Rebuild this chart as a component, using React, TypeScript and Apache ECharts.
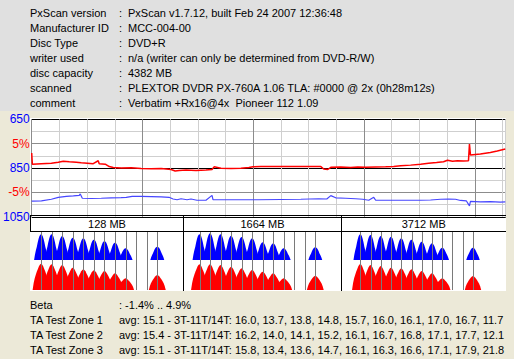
import React, { useEffect, useRef } from 'react';
import * as echarts from 'echarts';

// ---------- header information ----------
const INFO_LABELS = ['PxScan version', 'Manufacturer ID', 'Disc Type', 'writer used', 'disc capacity', 'scanned', 'comment'];
const INFO_VALUES = [
  'PxScan v1.7.12, built Feb 24 2007 12:36:48',
  'MCC-004-00',
  'DVD+R',
  'n/a (writer can only be determined from DVD-R/W)',
  '4382 MB',
  'PLEXTOR DVDR PX-760A 1.06 TLA: #0000 @ 2x (0h28m12s)',
  'Verbatim +Rx16@4x\u00a0 Pioneer 112 1.09',
];

// ---------- beta / jitter scan ----------
const DISC_MB = 4382;
const BETA_MB = [0, 6, 90, 182, 246, 292, 348, 412, 458, 514, 569, 615, 624, 680, 717, 754, 827, 920, 1012, 1104, 1197, 1289, 1326, 1362, 1427, 1519, 1611, 1667, 1686, 1750, 1842, 1934, 2008, 2045, 2119, 2211, 2303, 2396, 2534, 2673, 2700, 2737, 2765, 2857, 2949, 3014, 3088, 3180, 3272, 3346, 3411, 3503, 3595, 3669, 3743, 3807, 3844, 3890, 3936, 3992, 4038, 4047, 4056, 4148, 4240, 4304, 4378];
const BETA_PCT = [3.1, 0.8, 0.9, 1.0, 1.2, 1.4, 1.3, 1.2, 1.1, 1.0, 0.9, 1.5, 0.9, 0.8, 0.3, 0.1, 0.0, 0.05, -0.1, -0.15, -0.1, -0.3, -0.6, -0.5, -0.4, -0.5, -0.4, -0.3, 0.25, -0.05, -0.1, -0.05, 0.1, 0.25, 0.3, 0.3, 0.3, 0.3, 0.3, 0.3, -0.2, -0.3, 0.15, 0.2, 0.1, 0.2, 0.15, 0.2, 0.25, 0.3, 0.45, 0.6, 0.8, 1.0, 1.15, 1.3, 1.6, 1.4, 1.5, 1.45, 1.5, 4.9, 2.7, 2.9, 3.2, 3.5, 3.9];

const JITTER_MB = [0, 90, 182, 246, 320, 385, 440, 449, 468, 551, 643, 735, 827, 874, 929, 1012, 1104, 1197, 1270, 1307, 1344, 1381, 1436, 1473, 1528, 1611, 1667, 1676, 1750, 1888, 2027, 2091, 2303, 2488, 2654, 2728, 2765, 2811, 2903, 2995, 3060, 3116, 3162, 3180, 3319, 3457, 3595, 3688, 3780, 3854, 3918, 3964, 4019, 4047, 4056, 4148, 4240, 4332, 4378];
const JITTER_VAL = [986, 985, 978, 970, 966, 964, 962, 956, 974, 975, 974, 972, 971, 970, 966, 966, 967, 968, 970, 977, 980, 976, 980, 977, 982, 982, 962, 980, 980, 980, 980, 980, 979, 978, 976, 977, 963, 972, 974, 976, 978, 982, 970, 982, 982, 982, 982, 981, 978, 977, 978, 983, 985, 1005, 987, 989, 988, 990, 989];

const JITTER_TICK_LABELS = [650, 850, 1050];
const BETA_TICK_VALUES = [5, -5];
const BETA_TICK_LABELS = ['5%', '-5%'];

// ---------- TA histograms ----------
const TA_ZONE_TITLES = ['128 MB', '1664 MB', '3712 MB'];
const TA_T = [3, 4, 5, 6, 7, 8, 9, 10, 11, 14];
const TA_LINE_T = [3, 4, 5, 6, 7, 8, 9, 10, 11, 12, 13, 14];
const TA1_BLUE = [25.7, 25.7, 24.0, 22.3, 21.7, 20.3, 19.0, 17.3, 11.7, 13.3];
const TA1_RED = [26.3, 25.7, 25.0, 22.3, 20.7, 19.7, 19.0, 16.7, 11.7, 15.0];
const TA2_BLUE = [25.7, 26.7, 25.7, 24.3, 23.0, 21.7, 17.7, 16.7, 11.7, 12.7];
const TA2_RED = [25.7, 25.7, 25.0, 23.3, 21.7, 20.0, 18.3, 16.7, 11.7, 14.3];
const TA3_BLUE = [25.7, 25.0, 24.0, 23.3, 21.7, 20.3, 18.3, 16.7, 12.3, 12.3];
const TA3_RED = [26.0, 25.0, 24.0, 22.3, 21.7, 20.7, 19.0, 16.7, 11.7, 14.0];
const TA_BLUE = [TA1_BLUE, TA2_BLUE, TA3_BLUE];
const TA_RED = [TA1_RED, TA2_RED, TA3_RED];

// ---------- statistics ----------
const STAT_LABELS = ['Beta', 'TA Test Zone 1', 'TA Test Zone 2', 'TA Test Zone 3'];
const STAT_VALUES = [
  ': -1.4% .. 4.9%',
  'avg: 15.1 - 3T-11T/14T: 16.0, 13.7, 13.8, 14.8, 15.7, 16.0, 16.1, 17.0, 16.7, 11.7',
  'avg: 15.4 - 3T-11T/14T: 16.2, 14.0, 14.1, 15.2, 16.1, 16.7, 16.8, 17.1, 17.7, 12.1',
  'avg: 15.1 - 3T-11T/14T: 15.8, 13.4, 13.6, 14.7, 16.1, 16.3, 16.6, 17.1, 17.9, 21.8',
];

// ---------- layout / style ----------
const FONT = '"Liberation Sans", Arial, sans-serif';
const FONT11 = '11px "Liberation Sans", Arial, sans-serif';
const SECTIONS = [
  { l: 30.5, r: 183.5, tmin: 2.0, tmax: 16.48 },
  { l: 183.5, r: 341.5, tmin: 1.48, tmax: 16.49 },
  { l: 341.5, r: 506, tmin: 1.17, tmax: 17.22 },
];
// peak outline (offset in T, fraction of peak height), half shape mirrored below
const BLUE_HALF = [[0.66, 0], [0.58, 0.2], [0.5, 0.36], [0.4, 0.52], [0.32, 0.68], [0.24, 0.82], [0.16, 0.92], [0.08, 0.98], [0, 1]];
const RED_HALF = [[0.8, 0], [0.7, 0.27], [0.6, 0.45], [0.5, 0.58], [0.4, 0.7], [0.3, 0.8], [0.2, 0.9], [0.1, 0.97], [0, 1]];
const mirror = (half: number[][]) => [
  ...half.map(([d, r]) => [-d, r]),
  ...half.slice(0, -1).reverse().map(([d, r]) => [d, r]),
];
const BLUE_PROFILE = mirror(BLUE_HALF);
const RED_PROFILE = mirror(RED_HALF);

function peakRender(profile: number[][], color: string) {
  return (params: any, api: any) => {
    const t = api.value(0);
    const h = api.value(1);
    const pts = profile.map(([d, r]) => api.coord([t + d, h * r]));
    return { type: 'polygon', shape: { points: pts }, style: { fill: color } };
  };
}

function lineRender(extra: number) {
  return (params: any, api: any) => {
    const x = Math.round(api.coord([api.value(0), 0])[0]) + 0.5;
    const cs = params.coordSys;
    return {
      type: 'line',
      shape: { x1: x, y1: cs.y, x2: x, y2: cs.y + cs.height + extra },
      style: { stroke: '#7a7a7a', lineWidth: 1 },
    };
  };
}

function buildOption() {
  const grids: any[] = [{ left: 30.3, top: 119.3, width: 475.4, height: 97.5 }];
  const xAxes: any[] = [{
    type: 'value', gridIndex: 0, min: 0, max: DISC_MB, interval: 256,
    axisLine: { show: false }, axisTick: { show: false }, axisLabel: { show: false },
    splitLine: { show: true, lineStyle: { color: ['#8c8c8c', '#cfcfcf', '#cfcfcf', '#cfcfcf'], width: 1 } },
  }];
  const yAxes: any[] = [
    {
      type: 'value', gridIndex: 0, min: 650, max: 1050, interval: 50, inverse: true, position: 'left',
      axisLine: { show: false }, axisTick: { show: false },
      axisLabel: {
        margin: 2, fontSize: 12, fontFamily: FONT, color: '#0000ff',
        formatter: (v: number) => (JITTER_TICK_LABELS.includes(v) ? String(v) : ''),
      },
      splitLine: { show: true, lineStyle: { color: ['#000000', '#cfcfcf', '#8c8c8c', '#cfcfcf'], width: 1 } },
    },
    {
      type: 'value', gridIndex: 0, min: -10, max: 10, interval: 5, position: 'left',
      axisLine: { show: false }, axisTick: { show: false }, splitLine: { show: false },
      axisLabel: {
        margin: 2, fontSize: 12, fontFamily: FONT, color: '#ff0000',
        formatter: (v: number) => {
          const i = BETA_TICK_VALUES.indexOf(v);
          return i >= 0 ? BETA_TICK_LABELS[i] : '';
        },
      },
    },
  ];
  const series: any[] = [
    {
      type: 'line', xAxisIndex: 0, yAxisIndex: 1, showSymbol: false, silent: true,
      data: BETA_MB.map((m, i) => [m, BETA_PCT[i]]),
      lineStyle: { color: '#ff0000', width: 1.5 }, z: 5,
    },
    {
      type: 'line', xAxisIndex: 0, yAxisIndex: 0, showSymbol: false, silent: true,
      data: JITTER_MB.map((m, i) => [m, JITTER_VAL[i]]),
      lineStyle: { color: '#4646ff', width: 1.2 }, z: 5,
    },
  ];

  SECTIONS.forEach((s, k) => {
    const bi = 1 + 2 * k;
    const ri = 2 + 2 * k;
    grids.push({ left: s.l, top: 232, width: s.r - s.l, height: 28 });
    grids.push({ left: s.l, top: 261, width: s.r - s.l, height: 29 });
    [bi, ri].forEach((gi) => {
      xAxes.push({ type: 'value', gridIndex: gi, min: s.tmin, max: s.tmax, show: false });
    });
    yAxes.push({ type: 'value', gridIndex: bi, min: 0, max: 28, show: false });
    yAxes.push({ type: 'value', gridIndex: ri, min: 0, max: 29, show: false });
    series.push({
      type: 'custom', xAxisIndex: bi, yAxisIndex: bi + 1, silent: true, z: 3,
      data: TA_T.map((t, i) => [t, TA_BLUE[k][i]]),
      renderItem: peakRender(BLUE_PROFILE, '#0000ff'),
    });
    series.push({
      type: 'custom', xAxisIndex: ri, yAxisIndex: ri + 1, silent: true, z: 3,
      data: TA_T.map((t, i) => [t, TA_RED[k][i]]),
      renderItem: peakRender(RED_PROFILE, '#ff0000'),
    });
    series.push({
      type: 'custom', xAxisIndex: bi, yAxisIndex: bi + 1, silent: true, z: 4, clip: false,
      data: TA_LINE_T.map((t) => [t, 0]),
      renderItem: lineRender(1),
    });
    series.push({
      type: 'custom', xAxisIndex: ri, yAxisIndex: ri + 1, silent: true, z: 4, clip: false,
      data: TA_LINE_T.map((t) => [t, 0]),
      renderItem: lineRender(0),
    });
  });

  const txt = (text: string, x: number, y: number, align = 'left') => ({
    type: 'text', x, y, z: 50, silent: true,
    style: { text, font: FONT11, fill: '#000', textAlign: align, textVerticalAlign: 'middle', align, verticalAlign: 'middle' },
  });
  const ln = (x1: number, y1: number, x2: number, y2: number, color = '#000') => ({
    type: 'line', z: 40, silent: true, shape: { x1, y1, x2, y2 }, style: { stroke: color, lineWidth: 1 },
  });

  const graphic: any[] = [
    { type: 'rect', z: -10, silent: true, shape: { x: 0, y: 0, width: 514, height: 111 }, style: { fill: '#e0e0e0' } },
    { type: 'rect', z: -10, silent: true, shape: { x: 30, y: 118, width: 476, height: 98 }, style: { fill: '#ffffff' } },
    { type: 'rect', z: -10, silent: true, shape: { x: 30, y: 215, width: 476, height: 76 }, style: { fill: '#ffffff' } },
  ];
  INFO_LABELS.forEach((l, i) => {
    const y = 12.5 + 15 * i;
    graphic.push(txt(l, 30, y));
    graphic.push(txt(':', 119, y));
    graphic.push(txt(INFO_VALUES[i], 128, y));
  });
  STAT_LABELS.forEach((l, i) => {
    const y = 304.5 + 15 * i;
    graphic.push(txt(l, 30, y));
    graphic.push(txt(STAT_VALUES[i], 119, y));
  });
  // TA header box
  graphic.push(ln(30, 215.5, 506, 215.5));
  graphic.push(ln(30, 231.5, 506, 231.5));
  graphic.push(ln(30.5, 215.5, 30.5, 231.5));
  graphic.push(ln(183.5, 215.5, 183.5, 291));
  graphic.push(ln(341.5, 215.5, 341.5, 291));
  SECTIONS.forEach((s, k) => {
    graphic.push(txt(TA_ZONE_TITLES[k], (s.l + s.r) / 2, 223.5, 'center'));
  });

  return {
    animation: false,
    backgroundColor: '#ECE9D8',
    textStyle: { fontFamily: FONT },
    grid: grids,
    xAxis: xAxes,
    yAxis: yAxes,
    series,
    graphic,
  };
}

export default function App() {
  const ref = useRef<HTMLDivElement>(null);
  useEffect(() => {
    if (!ref.current) return;
    const chart = echarts.init(ref.current, null, { renderer: 'svg' });
    chart.setOption(buildOption() as any);
    return () => chart.dispose();
  }, []);
  return <div ref={ref} style={{ position: 'fixed', left: 0, top: 0, width: 514, height: 359 }} />;
}
